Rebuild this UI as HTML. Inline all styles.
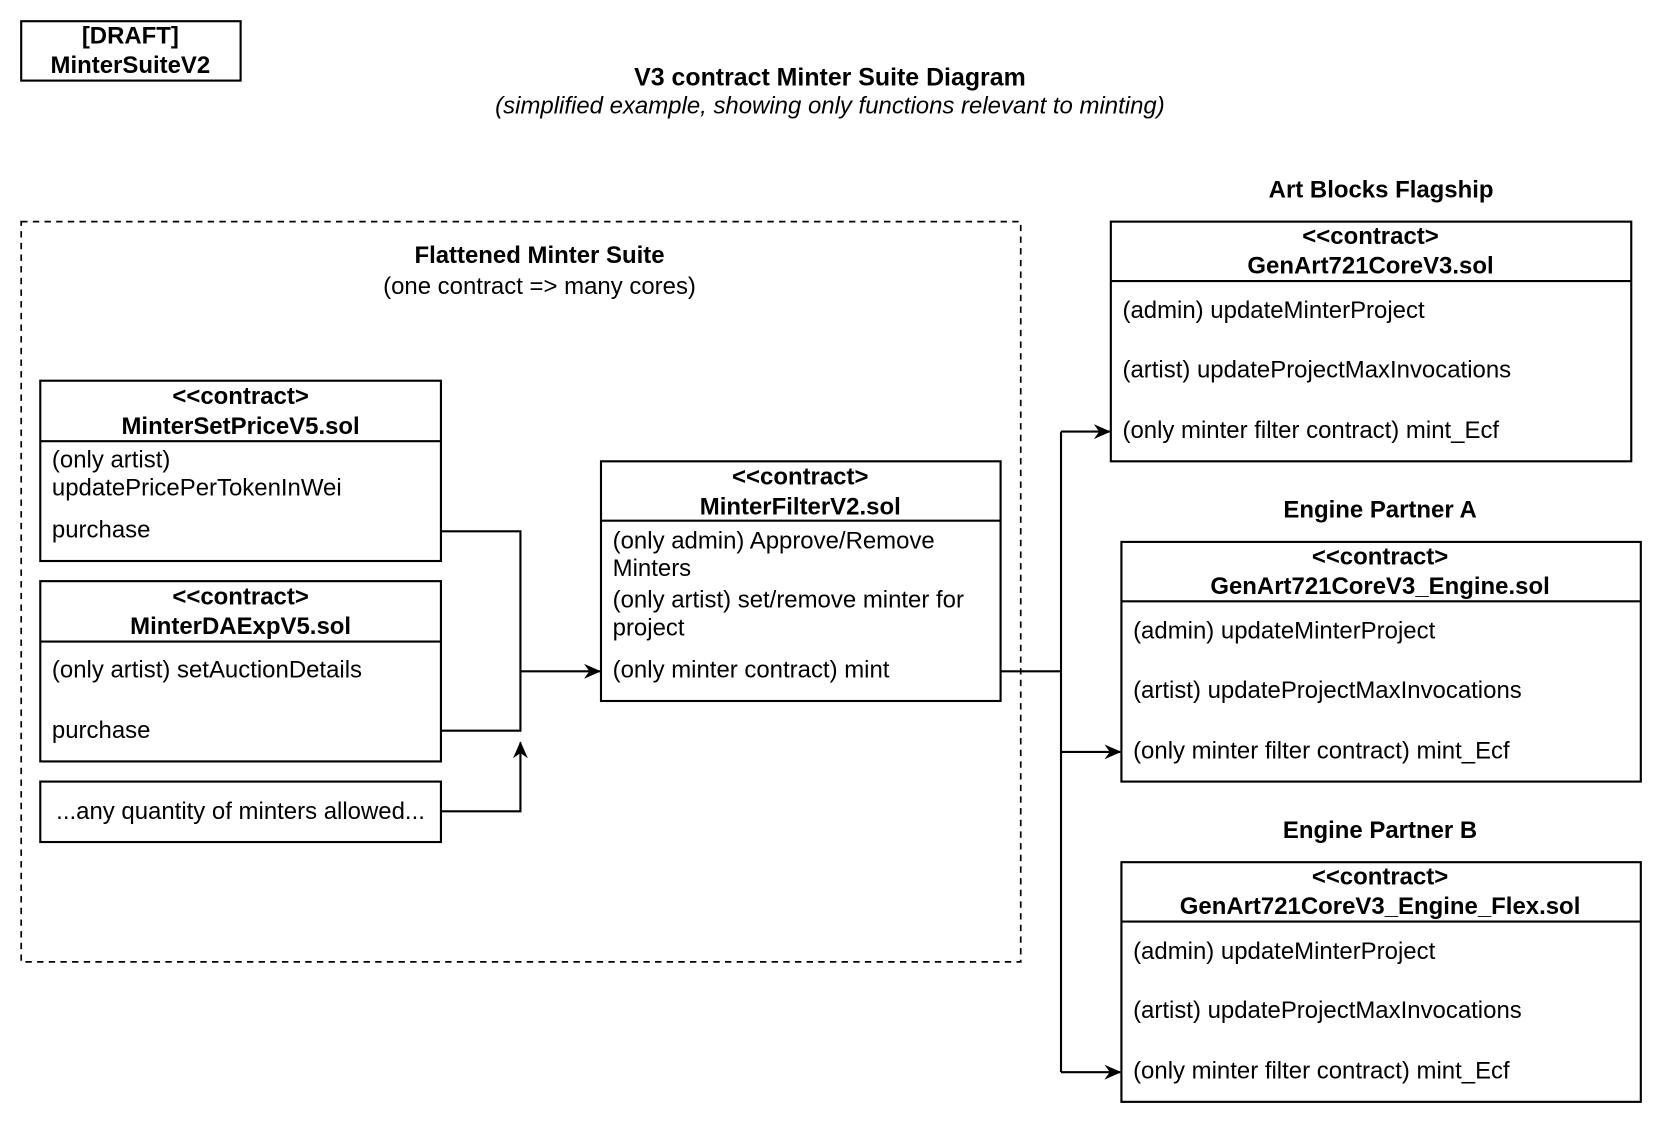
<!DOCTYPE html>
<html><head><meta charset="utf-8"><style>
html,body{margin:0;padding:0;background:#fff}
svg{display:block}
text{font-family:"Liberation Sans",Arial,sans-serif;font-size:22.6px;fill:#000;dominant-baseline:central}
.b{font-weight:bold}
.c{text-anchor:middle}
</style></head><body>
<svg width="1662" height="1122" viewBox="0 0 1568 1058" preserveAspectRatio="none" xmlns="http://www.w3.org/2000/svg">
<defs><marker id="a" markerWidth="16" markerHeight="16" refX="15" refY="8" orient="auto" markerUnits="userSpaceOnUse"><path d="M0,1 L16,8 L0,15 L5,8 Z" fill="#000"/></marker></defs>
<g fill="none" stroke="#000" stroke-width="2">
<rect x="20" y="20" width="207" height="56"/>
<rect x="20" y="209" width="943" height="698" stroke-dasharray="6,5" stroke-width="1.6"/>
<rect x="38" y="359" width="378" height="170"/><line x1="38" y1="416" x2="416" y2="416"/>
<rect x="38" y="548" width="378" height="170"/><line x1="38" y1="605" x2="416" y2="605"/>
<rect x="38" y="737" width="378" height="57"/>
<rect x="567" y="435" width="377" height="226"/><line x1="567" y1="491" x2="944" y2="491"/>
<rect x="1048" y="209" width="491" height="226"/><line x1="1048" y1="265" x2="1539" y2="265"/>
<rect x="1058" y="511" width="490" height="226"/><line x1="1058" y1="567" x2="1548" y2="567"/>
<rect x="1058" y="813" width="490" height="226"/><line x1="1058" y1="869" x2="1548" y2="869"/>
<polyline points="416,501 491,501 491,689 416,689"/>
<line x1="491" y1="633" x2="566" y2="633" marker-end="url(#a)"/>
<polyline points="416,765 491,765 491,700" marker-end="url(#a)"/>
<line x1="944" y1="633" x2="1001" y2="633"/>
<line x1="1001" y1="407" x2="1001" y2="1011"/>
<line x1="1001" y1="407" x2="1047" y2="407" marker-end="url(#a)"/>
<line x1="1001" y1="709" x2="1057" y2="709" marker-end="url(#a)"/>
<line x1="1001" y1="1011" x2="1057" y2="1011" marker-end="url(#a)"/>
</g>
<text class="b c" x="123" y="34">[DRAFT]</text>
<text class="b c" x="123" y="62">MinterSuiteV2</text>
<text class="b c" x="783" y="73" style="font-size:23.5px">V3 contract Minter Suite Diagram</text>
<text class="c" x="783" y="100" font-style="italic">(simplified example, showing only functions relevant to minting)</text>
<text class="b c" x="509" y="241">Flattened Minter Suite</text>
<text class="c" x="509" y="270">(one contract =&gt; many cores)</text>
<text class="b c" x="227" y="374">&lt;&lt;contract&gt;</text>
<text class="b c" x="227" y="402">MinterSetPriceV5.sol</text>
<text x="49" y="434">(only artist)</text>
<text x="49" y="460">updatePricePerTokenInWei</text>
<text x="49" y="500">purchase</text>
<text class="b c" x="227" y="563">&lt;&lt;contract&gt;</text>
<text class="b c" x="227" y="591">MinterDAExpV5.sol</text>
<text x="49" y="632">(only artist) setAuctionDetails</text>
<text x="49" y="689">purchase</text>
<text x="53" y="765">...any quantity of minters allowed...</text>
<text class="b c" x="755" y="450">&lt;&lt;contract&gt;</text>
<text class="b c" x="755" y="478">MinterFilterV2.sol</text>
<text x="578" y="510">(only admin) Approve/Remove</text>
<text x="578" y="536">Minters</text>
<text x="578" y="566">(only artist) set/remove minter for</text>
<text x="578" y="592">project</text>
<text x="578" y="632">(only minter contract) mint</text>
<text class="b c" x="1303" y="179">Art Blocks Flagship</text>
<text class="b c" x="1293" y="223">&lt;&lt;contract&gt;</text>
<text class="b c" x="1293" y="251">GenArt721CoreV3.sol</text>
<text x="1059" y="293">(admin) updateMinterProject</text>
<text x="1059" y="349">(artist) updateProjectMaxInvocations</text>
<text x="1059" y="406">(only minter filter contract) mint_Ecf</text>
<text class="b c" x="1302" y="481">Engine Partner A</text>
<text class="b c" x="1302" y="525">&lt;&lt;contract&gt;</text>
<text class="b c" x="1302" y="553">GenArt721CoreV3_Engine.sol</text>
<text x="1069" y="595">(admin) updateMinterProject</text>
<text x="1069" y="651">(artist) updateProjectMaxInvocations</text>
<text x="1069" y="708">(only minter filter contract) mint_Ecf</text>
<text class="b c" x="1302" y="783">Engine Partner B</text>
<text class="b c" x="1302" y="827">&lt;&lt;contract&gt;</text>
<text class="b c" x="1302" y="855">GenArt721CoreV3_Engine_Flex.sol</text>
<text x="1069" y="897">(admin) updateMinterProject</text>
<text x="1069" y="953">(artist) updateProjectMaxInvocations</text>
<text x="1069" y="1010">(only minter filter contract) mint_Ecf</text>
</svg>
</body></html>
